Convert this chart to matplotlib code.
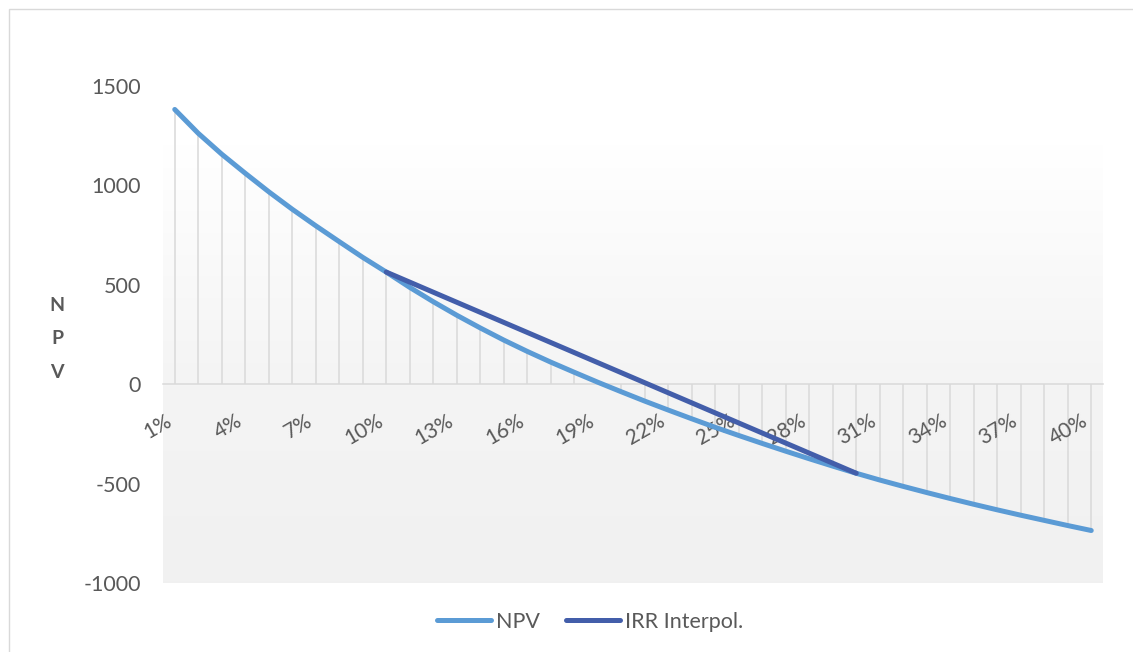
import numpy as np
import matplotlib
matplotlib.use("Agg")
import matplotlib.pyplot as plt
from matplotlib.patches import Rectangle

# ---- data ----
rates = [f"{i}%" for i in range(1, 41)]
npv = [1382, 1262, 1157, 1061, 968, 880, 797, 717, 638, 564,
       487, 415, 347, 283, 222, 165, 111, 60, 10, -38,
       -85, -130, -174, -217, -258, -298, -337, -375, -412, -448,
       -482, -514, -545, -575, -604, -632, -659, -685, -711, -736]
irr_idx = [9, 29]          # 10% and 30%
irr_vals = [564, -448]
yticks = [-1000, -500, 0, 500, 1000, 1500]
ytick_labels = ["-1000", "-500", "0", "500", "1000", "1500"]
xtick_labels = rates[::3]

C_NPV = "#5B9BD5"
C_IRR = "#435EAA"
GRID = "#D9D9D9"
TXT = "#595959"
FONT = ["Lato", "DejaVu Sans"]
plt.rcParams["font.family"] = FONT

W, H = 1133, 652
fig = plt.figure(figsize=(W / 100, H / 100), dpi=100)
fig.patch.set_facecolor("white")

# chart border (cut off at right/bottom)
fig.patches.append(Rectangle((9 / W, -0.05), 1.2, 1 - 9 / H + 0.05,
                             transform=fig.transFigure, fill=False,
                             edgecolor=GRID, linewidth=1.0))

left, right = 163 / W, 1103 / W
bottom, top = 1 - 583 / H, 1 - 86 / H
ax = fig.add_axes([left, bottom, right - left, top - bottom])
ax.set_facecolor("none")

x = np.arange(len(npv))
ax.set_xlim(-0.5, len(npv) - 0.5)

# gradient background (white at top -> light grey at bottom)
t = np.linspace(0, 1, 400)
stops_t = [0.0, 0.12, 0.60, 1.0]
stops_v = [1.0, 1.0, 0.957, 0.945]
v = np.interp(t, stops_t, stops_v)
img = np.repeat(v[:, None, None], 3, axis=2)
ax.imshow(img, extent=[-0.5, len(npv) - 0.5, -1000, 1500],
          origin="upper", aspect="auto", zorder=0, interpolation="bilinear")
ax.set_ylim(-1000, 1500)

# drop lines
ax.vlines(x, 0, npv, colors=GRID, linewidth=1.1, zorder=1)

l1, = ax.plot(x, npv, color=C_NPV, linewidth=3.6, solid_capstyle="round", zorder=3, label="NPV")
l2, = ax.plot(irr_idx, irr_vals, color=C_IRR, linewidth=3.6, solid_capstyle="round", zorder=4,
              label="IRR Interpol.")

for s in ["top", "right", "left"]:
    ax.spines[s].set_visible(False)
ax.spines["bottom"].set_position(("data", 0))
ax.spines["bottom"].set_color(GRID)
ax.spines["bottom"].set_linewidth(1.1)
ax.spines["bottom"].set_zorder(2)

ax.set_xticks(x[::3])
ax.set_xticklabels(xtick_labels, rotation=30, ha="right", va="top",
                   fontsize=15, color=TXT)
ax.tick_params(axis="x", length=0, pad=19)
ax.set_yticks(yticks)
ax.set_yticklabels(ytick_labels, fontsize=15.5, color=TXT)
ax.tick_params(axis="y", length=0, pad=16)

# vertical "NPV" axis title
for ch, yp in zip("NPV", [305, 338, 372]):
    fig.text(57 / W, 1 - yp / H, ch, ha="center", va="center", fontsize=14,
             fontweight="bold", color=TXT)

fig.legend(handles=[l1, l2], loc="center", bbox_to_anchor=(590 / W, 1 - 622 / H),
           ncol=2, frameon=False, fontsize=15.5, labelcolor=TXT,
           handlelength=2.5, handletextpad=0.25, columnspacing=1.2)

fig.savefig("out.png", dpi=100, facecolor="white")
